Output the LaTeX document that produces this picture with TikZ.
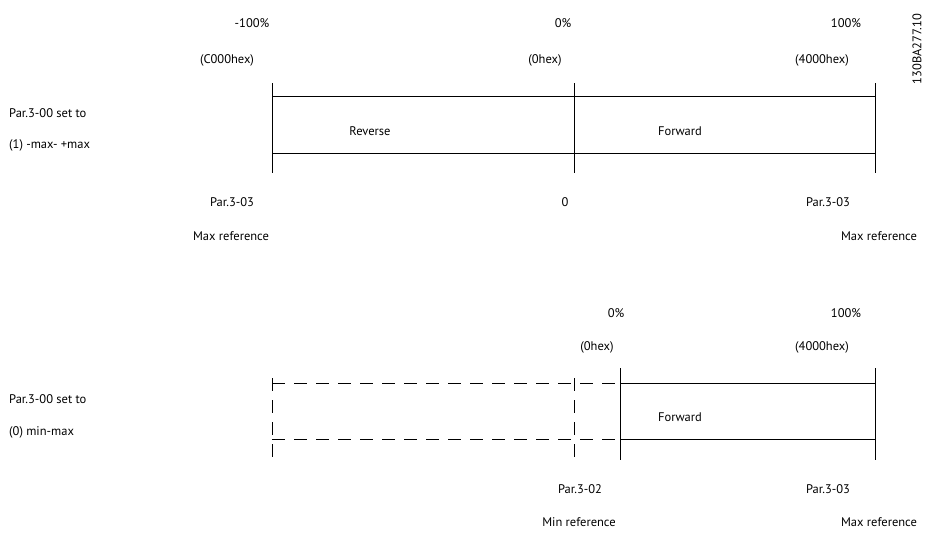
\documentclass[tikz,border=0pt]{standalone}
\usepackage{fontspec}
\setmainfont{PT Sans}
\usetikzlibrary{calc}

\begin{document}
\begin{tikzpicture}[x=1pt,y=-1pt,
    lbl/.style={font=\fontsize{12.5}{14}\selectfont, inner sep=0pt},
    lft/.style={lbl, anchor=west},
    bar/.style={line width=0.9pt},
    dbar/.style={bar, dash pattern=on 13pt off 9pt}]

      \useasboundingbox (0,0) rectangle (932,538);

      % Top band: ticks
      \foreach \n/\x in {L/272,M/574,R/875}
      {
        \coordinate (T\n) at (\x,83);
        \coordinate (B\n) at (\x,173);
        \draw[bar] (T\n) -- (B\n);
      }
      \coordinate (UL) at (272,96);  \coordinate (UR) at (875,96);
      \coordinate (DL) at (272,153); \coordinate (DR) at (875,153);
      \draw[bar] (UL) -- (UR);
      \draw[bar] (DL) -- (DR);

      % Top band: labels
      \node[lbl] (pm) at (252,23) {-100\%};
      \node[lbl] (pz) at (563,23) {0\%};
      \node[lbl] (pp) at (846,23) {100\%};
      \node[lbl] (hm) at (227,60) {(C000hex)};
      \node[lbl] (hz) at (545,60) {(0hex)};
      \node[lbl] (hp) at (822,60) {(4000hex)};
      \node[lbl] (rev) at (370,131) {Reverse};
      \node[lbl] (fwd) at (680,131) {Forward};
      \node[lft] (set1) at (9,113) {Par.3-00 set to};
      \node[lft] (mode1) at (9,145) {(1) -max- +max};
      \node[lbl] (parl) at (232,202) {Par.3-03};
      \node[lbl] (zero) at (565,202) {0};
      \node[lbl] (parr) at (828,202) {Par.3-03};
      \node[lbl] (maxl) at (231,236) {Max reference};
      \node[lbl] (maxr) at (879,236) {Max reference};
      \node[lbl, rotate=90] (code) at (917,49) {130BA277.10};

      % Bottom band: dashed part
      \coordinate (dTL) at (272,378); \coordinate (dBL) at (272,460);
      \coordinate (dTM) at (574,378); \coordinate (dBM) at (574,460);
      \coordinate (dUL) at (272,383); \coordinate (dDL) at (272,439);
      \coordinate (sUL) at (620,383); \coordinate (sDL) at (620,439);
      \coordinate (sUR) at (875,383); \coordinate (sDR) at (875,439);
      \draw[dbar] (dTL) -- (dBL);
      \draw[dbar] (dTM) -- (dBM);
      \draw[dbar] (dUL) -- (sUL);
      \draw[dbar] (dDL) -- (sDL);

      % Bottom band: solid part
      \foreach \n/\x in {M/620,R/875}
      {
        \coordinate (sT\n) at (\x,368);
        \coordinate (sB\n) at (\x,460);
        \draw[bar] (sT\n) -- (sB\n);
      }
      \draw[bar] (sUL) -- (sUR);
      \draw[bar] (sDL) -- (sDR);

      % Bottom band: labels
      \node[lbl] (qz) at (616,313) {0\%};
      \node[lbl] (qp) at (846,313) {100\%};
      \node[lbl] (gz) at (597,347) {(0hex)};
      \node[lbl] (gp) at (822,347) {(4000hex)};
      \node[lbl] (fwd2) at (680,417) {Forward};
      \node[lft] (set0) at (9,399) {Par.3-00 set to};
      \node[lft] (mode0) at (9,432) {(0) min-max};
      \node[lbl] (parmin) at (580,489) {Par.3-02};
      \node[lbl] (parmax) at (828,489) {Par.3-03};
      \node[lbl] (minref) at (579,522) {Min reference};
      \node[lbl] (maxref) at (879,522) {Max reference};

\end{tikzpicture}
\end{document}
